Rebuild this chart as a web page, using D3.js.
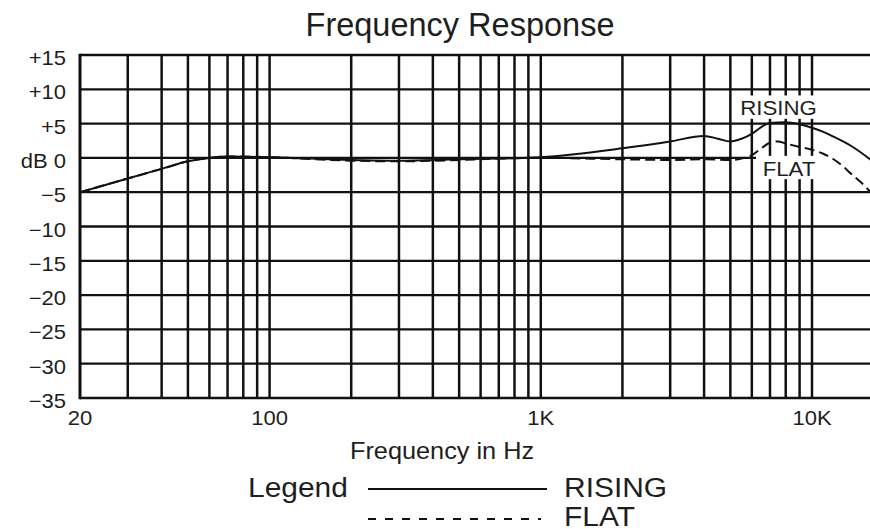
<!DOCTYPE html>
<html>
<head>
<meta charset="utf-8">
<script src="https://cdn.jsdelivr.net/npm/d3@7"></script>
<style>
  html, body { margin: 0; padding: 0; background: #fff; }
  svg { display: block; font-family: "Liberation Sans", Arial, Helvetica, sans-serif; }
  text { fill: #1e1e1e; }
</style>
</head>
<body>
<svg id="chart" width="870" height="529"></svg>
<script>
// ---------- data ----------
const titleText = "Frequency Response";
const xAxisTitle = "Frequency in Hz";
const xTickValues = [20, 100, 1000, 10000];
const xTickLabels = ["20", "100", "1K", "10K"];
const yTickValues = [15, 10, 5, 0, -5, -10, -15, -20, -25, -30, -35];
const yTickLabels = ["+15", "+10", "+5", "dB 0", "\u22125", "\u221210", "\u221215", "\u221220", "\u221225", "\u221230", "\u221235"];

const risingFreq = [20, 30, 40, 50, 60, 70, 100, 200, 300, 500, 700, 1000, 2000, 3000, 4000, 4500, 5000, 5500, 6000, 6500, 7000, 8000, 9000, 10000, 11000, 12000, 14000, 16000, 18000];
const risingDb   = [-5, -3, -1.6, -0.5, 0, 0.2, 0.1, -0.3, -0.4, -0.2, -0.1, 0.1, 1.4, 2.4, 3.2, 2.8, 2.4, 2.8, 3.5, 4.5, 5.1, 5.2, 4.9, 4.4, 3.8, 3.1, 1.7, 0.1, -1.5];

const flatFreq = [20, 30, 40, 50, 60, 70, 100, 200, 300, 500, 700, 1000, 2000, 3000, 4000, 5000, 5500, 6000, 6500, 7000, 7500, 8000, 9000, 10000, 11000, 12000, 13000, 14000, 15000, 16000, 18000];
const flatDb   = [-5, -3, -1.6, -0.5, 0, 0.2, 0.1, -0.4, -0.5, -0.3, -0.1, 0, -0.2, -0.3, -0.2, -0.3, -0.1, 0.4, 1.4, 2.2, 2.4, 2.1, 1.6, 1.2, 0.6, -0.2, -1.2, -2.4, -3.4, -4.5, -7];

const seriesNames = ["RISING", "FLAT"];

// ---------- layout ----------
const svg = d3.select("#chart");
const W = 870;
const plot = { left: 80, top: 55, bottom: 398, right: W };

const x = d3.scaleLog().domain([20, 10000]).range([80, 812]);
const y = d3.scaleLinear().domain([-35, 15]).range([plot.bottom, plot.top]);

function label(px, py, s, size, anchor, sx) {
  return svg.append("text")
    .attr("transform", `translate(${px},${py}) scale(${sx || 1},1)`)
    .attr("text-anchor", anchor)
    .style("font-size", size + "px")
    .text(s);
}

const ink = "#111";

// ---------- grid ----------
const grid = svg.append("g");
const gridFreqs = x.ticks().filter(f => f > 20);
grid.selectAll("line.v").data(gridFreqs).join("line")
  .attr("x1", d => x(d)).attr("x2", d => x(d))
  .attr("y1", plot.top).attr("y2", plot.bottom)
  .attr("stroke", ink).attr("stroke-width", 2.5);
grid.selectAll("line.h").data(yTickValues.filter(v => v < 15 && v > -35)).join("line")
  .attr("x1", plot.left).attr("x2", plot.right)
  .attr("y1", d => y(d)).attr("y2", d => y(d))
  .attr("stroke", ink).attr("stroke-width", 2.3);
// frame
grid.append("line").attr("x1", plot.left).attr("x2", plot.right).attr("y1", y(15)).attr("y2", y(15)).attr("stroke", ink).attr("stroke-width", 2.6);
grid.append("line").attr("x1", plot.left).attr("x2", plot.right).attr("y1", y(-35)).attr("y2", y(-35)).attr("stroke", ink).attr("stroke-width", 2.6);
grid.append("line").attr("x1", plot.left).attr("x2", plot.left).attr("y1", y(15) - 1.3).attr("y2", y(-35) + 1.3).attr("stroke", ink).attr("stroke-width", 3);

// white boxes behind in-plot labels
svg.append("rect").attr("x", 738).attr("y", y(9.1)).attr("width", 82).attr("height", y(5.7) - y(9.1)).attr("fill", "#fff");
svg.append("rect").attr("x", 756).attr("y", y(0.3)).attr("width", 120).attr("height", y(-3.1) - y(0.3)).attr("fill", "#fff");

// ---------- curves ----------
svg.append("clipPath").attr("id", "clip").append("rect")
  .attr("x", plot.left).attr("y", plot.top).attr("width", W - plot.left).attr("height", plot.bottom - plot.top);

const line = d3.line().x(d => x(d[0])).y(d => y(d[1])).curve(d3.curveMonotoneX);
const curves = svg.append("g").attr("clip-path", "url(#clip)");
curves.append("path").datum(flatFreq.map((f, i) => [f, flatDb[i]]))
  .attr("d", line).attr("fill", "none").attr("stroke", ink).attr("stroke-width", 2)
  .attr("stroke-dasharray", "10,5");
curves.append("path").datum(risingFreq.map((f, i) => [f, risingDb[i]]))
  .attr("d", line).attr("fill", "none").attr("stroke", ink).attr("stroke-width", 2);

// in-plot labels
label(778.5, 115, seriesNames[0], 21, "middle", 1.06);
label(789, 176, seriesNames[1], 21, "middle", 1.06);

// ---------- axes labels ----------
yTickValues.forEach((v, i) => label(66, y(v) + 10, yTickLabels[i], 20, "end", 1.1));
xTickValues.forEach((v, i) => label(x(v), 425, xTickLabels[i], 20, "middle", 1.1));

label(460, 36, titleText, 32.5, "middle", 1);
label(442, 459, xAxisTitle, 23, "middle", 1.1);

// ---------- legend ----------
label(248, 497, "Legend", 28, "start", 1.07);
svg.append("line").attr("x1", 368).attr("x2", 547).attr("y1", 489).attr("y2", 489)
  .attr("stroke", ink).attr("stroke-width", 2);
svg.append("line").attr("x1", 368).attr("x2", 541).attr("y1", 519).attr("y2", 519)
  .attr("stroke", ink).attr("stroke-width", 2).attr("stroke-dasharray", "8,9");
label(564, 497, seriesNames[0], 28, "start", 1.07);
label(564, 526, seriesNames[1], 28, "start", 1.07);
</script>
</body>
</html>
